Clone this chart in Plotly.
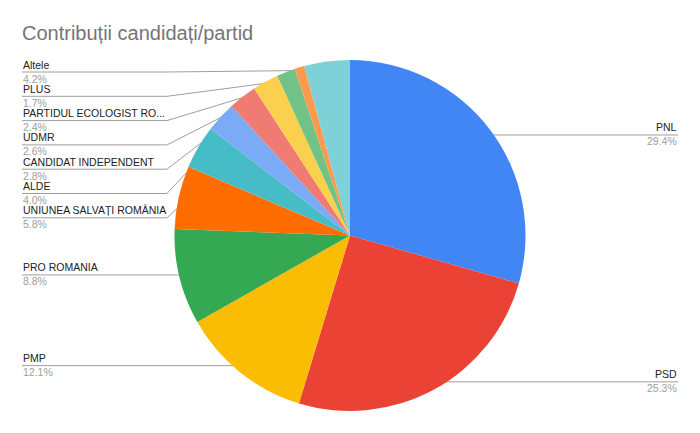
import math
import plotly.graph_objects as go

# ---- data ----
parties = ["PNL", "PSD", "PMP", "PRO ROMANIA", "UNIUNEA SALVAȚI ROMÂNIA", "ALDE",
           "CANDIDAT INDEPENDENT", "UDMR", "PARTIDUL ECOLOGIST RO...", "PLUS",
           "Alt partid", "Altele"]
shares = [29.4, 25.3, 12.1, 8.8, 5.8, 4.0, 2.8, 2.6, 2.4, 1.7, 0.9, 4.2]
show_label = [True, True, True, True, True, True, True, True, True, True, False, True]
colors = ["#4285F4", "#EA4335", "#FBBC04", "#34A853", "#FF6D01", "#46BDC6",
          "#7BAAF7", "#F07B72", "#FCD04F", "#71C287", "#FF994D", "#7ED1D7"]
title = "Contribuții candidați/partid"

# ---- layout constants (page pixels) ----
PAGE_W, PAGE_H, OFF = 700, 433, 8   # body margin of the html page
W, H = PAGE_W - OFF, PAGE_H - OFF
CX, CY, R = 350, 235.5, 175.5
DOT_R = 0.95 * R
LEFT_X, BEND_X, RIGHT_X = 22, 167, 678
SLOT, TOP_MIN = 24.3, 72
FONT = "Arial, Liberation Sans, sans-serif"


def px(x):
    return (x - OFF) / W


def py(y):
    return (PAGE_H - y) / H


fig = go.Figure()
fig.add_trace(go.Pie(
    labels=parties, values=shares, sort=False, direction="clockwise", rotation=0,
    marker=dict(colors=colors, line=dict(width=0)), textinfo="none",
    hoverinfo="skip", showlegend=False,
    domain=dict(x=[px(CX - R), px(CX + R)], y=[py(CY + R), py(CY - R)]),
))

total = sum(shares)
cum = 0
anchors = []
for name, v, show in zip(parties, shares, show_label):
    mid = (cum + v / 2) / total * 2 * math.pi
    cum += v
    if not show:
        continue
    dx, dy = CX + DOT_R * math.sin(mid), CY - DOT_R * math.cos(mid)
    anchors.append(dict(name=name, v=v, x=dx, y=dy, left=math.sin(mid) < 0))

left = sorted([a for a in anchors if a["left"]], key=lambda a: a["y"])
prev = None
for a in left:
    y = max(a["y"], TOP_MIN if prev is None else prev + SLOT)
    a["ly"] = y
    prev = y
for a in anchors:
    if not a["left"]:
        a["ly"] = a["y"]

line_col = "#9e9e9e"
for a in anchors:
    if a["left"]:
        if abs(a["ly"] - a["y"]) < 0.5:
            xs, ys = [LEFT_X, a["x"]], [a["ly"], a["y"]]
        else:
            xs, ys = [LEFT_X, BEND_X, a["x"]], [a["ly"], a["ly"], a["y"]]
        tx, anch = LEFT_X, "left"
    else:
        xs, ys = [a["x"], RIGHT_X], [a["y"], a["ly"]]
        tx, anch = RIGHT_X, "right"
    fig.add_trace(go.Scatter(x=xs, y=ys, mode="lines", line=dict(color=line_col, width=1),
                             hoverinfo="skip", showlegend=False))
    fig.add_trace(go.Scatter(x=[a["x"]], y=[a["y"]], mode="markers",
                             marker=dict(color="#8a8a8a", size=5), hoverinfo="skip",
                             showlegend=False))
    fig.add_annotation(x=tx, y=a["ly"] - 7.5, text=a["name"], showarrow=False,
                       xanchor=anch, yanchor="middle", borderpad=0,
                       font=dict(family=FONT, size=10.5, color="#222222"))
    fig.add_annotation(x=tx, y=a["ly"] + 6.5, text=f"{a['v']:.1f}%", showarrow=False,
                       xanchor=anch, yanchor="middle", borderpad=0,
                       font=dict(family=FONT, size=10.5, color="#9e9e9e"))

fig.update_layout(
    width=W, height=H, margin=dict(l=0, r=0, t=0, b=0),
    paper_bgcolor="white", plot_bgcolor="rgba(0,0,0,0)",
    title=dict(text=title, x=px(LEFT_X), xanchor="left", y=py(33), yanchor="middle",
               xref="paper", yref="paper", font=dict(family=FONT, size=20, color="#757575")),
    xaxis=dict(range=[OFF, PAGE_W], visible=False, fixedrange=True, domain=[0, 1]),
    yaxis=dict(range=[PAGE_H, OFF], visible=False, fixedrange=True, domain=[0, 1]),
    hovermode=False,
)
fig.write_html("out.html")
